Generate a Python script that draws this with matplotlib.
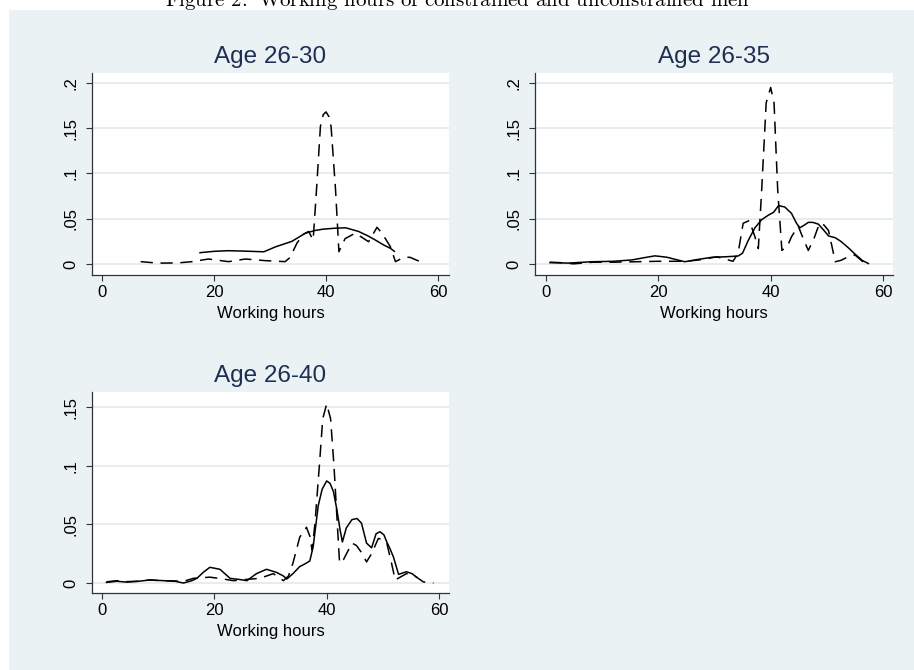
import numpy as np
import matplotlib
matplotlib.use("Agg")
import matplotlib.pyplot as plt
from matplotlib.patches import Rectangle

plt.rcParams.update({
    "font.family": ["Liberation Sans", "DejaVu Sans"],
    "mathtext.fontset": "cm",
})

BG = "#eaf2f3"
GRID = "#e3ecef"
TITLE_COLOR = "#1e2f56"

# ── data (hours, density) ─────────────────────────────────────────────────
titles = ["Age 26-30", "Age 26-35", "Age 26-40"]

h30_solid = [17.5, 20, 22.5, 25, 28.9, 31, 33.9, 36.3, 38, 39.5, 41.5, 43.5,
             45.8, 47.5, 48.8, 50.3, 51.5, 52.2]
d30_solid = [0.0125, 0.0140, 0.0147, 0.0143, 0.0135, 0.019, 0.025, 0.034,
             0.037, 0.0385, 0.0395, 0.040, 0.036, 0.031, 0.0265, 0.021,
             0.0173, 0.014]
h30_dash = [6.9, 9, 10.7, 13.5, 16.1, 19, 22.6, 25.6, 29.2, 32.7, 33.6, 34.8,
            36, 36.9, 37.7, 38.3, 39.0, 39.5, 40.0, 40.5, 40.9, 41.7, 42.3,
            43.4, 45.2, 46.4, 47.6, 49.1, 50, 51.5, 52.4, 53.9, 55, 57.4]
d30_dash = [0.0026, 0.0015, 0.001, 0.0012, 0.0026, 0.0055, 0.0026, 0.0055,
            0.0037, 0.0026, 0.0074, 0.023, 0.033, 0.036, 0.0265, 0.082, 0.152,
            0.165, 0.168, 0.163, 0.152, 0.082, 0.0136, 0.028, 0.034, 0.0295,
            0.0246, 0.0405, 0.034, 0.019, 0.0026, 0.0074, 0.0074, 0.001]

h35_solid = [0.7, 4, 8.1, 12, 15.3, 17.5, 19.4, 21.5, 24.7, 27, 29.5, 32,
             34.2, 35, 36, 37.2, 38.4, 39.6, 40.5, 41.4, 42.5, 43.7, 44.6,
             45.2, 46, 46.7, 47.5, 48.5, 49.5, 50.3, 51.5, 52.5, 54, 55,
             56.3, 57.4]
d35_solid = [0.0015, 0.001, 0.0025, 0.003, 0.0045, 0.007, 0.009, 0.0075,
             0.0025, 0.005, 0.0074, 0.008, 0.0088, 0.012, 0.026, 0.040, 0.049,
             0.054, 0.057, 0.0645, 0.063, 0.056, 0.045, 0.040, 0.043, 0.046,
             0.046, 0.044, 0.037, 0.031, 0.029, 0.025, 0.017, 0.011, 0.004,
             0.0005]
h35_dash = [0.7, 2.5, 4.9, 8.4, 12, 16, 20, 25, 28, 30.4, 33.3, 34.2, 35.1,
            36.2, 37.2, 37.8, 38.4, 39.2, 40.0, 40.6, 41.25, 42.0, 43.0, 43.7,
            44.9, 45.8, 46.7, 47.7, 48.7, 49.5, 50.3, 51.5, 52.5, 53.8, 55.0,
            56.8]
d35_dash = [0.002, 0.0015, 0.0002, 0.002, 0.002, 0.0025, 0.003, 0.003, 0.005,
            0.008, 0.003, 0.012, 0.045, 0.048, 0.030, 0.017, 0.082, 0.178,
            0.195, 0.178, 0.082, 0.015, 0.020, 0.030, 0.042, 0.028, 0.015,
            0.028, 0.045, 0.043, 0.037, 0.0025, 0.004, 0.008, 0.010, 0.0005]

h40_solid = [0.8, 2.6, 4.4, 6.5, 8.5, 11, 13, 14.5, 16, 16.9, 18, 19.2, 21,
             22.8, 24.5, 25.8, 27.5, 29.3, 31.1, 32.3, 32.9, 34, 35.2, 36.2,
             37.0, 37.6, 38.5, 39.2, 40.0, 40.6, 41.2, 41.8, 42.4, 42.8, 43.5,
             44.5, 45.4, 46.2, 47.1, 48.0, 48.8, 49.5, 50.2, 50.7, 51.3, 51.9,
             52.8, 54.2, 55.2, 56.0]
d40_solid = [0.0005, 0.0015, 0.0008, 0.0015, 0.0026, 0.002, 0.0015, 0.0,
             0.002, 0.004, 0.009, 0.0134, 0.0117, 0.004, 0.003, 0.002, 0.008,
             0.0117, 0.009, 0.006, 0.0034, 0.008, 0.014, 0.0165, 0.0188, 0.031,
             0.066, 0.080, 0.087, 0.085, 0.078, 0.063, 0.045, 0.035, 0.047,
             0.054, 0.055, 0.051, 0.034, 0.030, 0.042, 0.0437, 0.041, 0.035,
             0.029, 0.022, 0.0074, 0.0096, 0.008, 0.005]
h40_dash = [0.8, 2.6, 4.5, 6.5, 8.5, 10.5, 12.5, 14.5, 16.3, 19.2, 21.5, 23.4,
            25.5, 28.1, 30.5, 32.3, 33.2, 34.0, 35.2, 36.4, 37.0, 37.4, 37.9,
            38.7, 39.3, 40.0, 40.7, 41.3, 41.9, 42.3, 43.0, 44.5, 45.3, 46.2,
            47.1, 48.0, 49.2, 50.0, 50.7, 51.5, 52.2, 54.2, 55.4, 57.2, 59.0]
d40_dash = [0.001, 0.002, 0.0012, 0.0015, 0.0026, 0.002, 0.0018, 0.0015,
            0.004, 0.005, 0.0035, 0.002, 0.003, 0.004, 0.008, 0.002, 0.006,
            0.017, 0.039, 0.0475, 0.040, 0.028, 0.05, 0.10, 0.140, 0.1526,
            0.140, 0.10, 0.05, 0.017, 0.02, 0.034, 0.032, 0.026, 0.018, 0.025,
            0.038, 0.037, 0.034, 0.018, 0.0026, 0.008, 0.007, 0.001, 0.0]

xticks = [0, 20, 40, 60]
yticks_a = [0, 0.05, 0.1, 0.15, 0.2]
ylabels_a = ["0", ".05", ".1", ".15", ".2"]
yticks_c = [0, 0.05, 0.1, 0.15]
ylabels_c = ["0", ".05", ".1", ".15"]

W, H = 914, 670
fig = plt.figure(figsize=(W / 100, H / 100), dpi=100, facecolor="white")
fig.patches.append(Rectangle((9 / W, 0), 1, (H - 10) / H, transform=fig.transFigure,
                             facecolor=BG, edgecolor="none", zorder=-10))

# caption sits partly above the page edge, as in the source document
fig.text(0.5, 1 - 6 / H,
         r"Figure $\mathbf{2}\!\mathbf{:}$ Working hours of constrained and unconstrained men",
         ha="center", va="baseline", fontsize=15, family="cmr10")


def px_axes(left, top, right, bottom):
    return fig.add_axes([left / W, 1 - bottom / H, (right - left) / W, (bottom - top) / H])


panels = [
    (px_axes(92, 73, 449, 275), (-1.79, 61.96), (-0.01215, 0.211),
     h30_solid, d30_solid, h30_dash, d30_dash, yticks_a, ylabels_a),
    (px_axes(535, 73, 893, 275), (-1.96, 61.78), (-0.01215, 0.211),
     h35_solid, d35_solid, h35_dash, d35_dash, yticks_a, ylabels_a),
    (px_axes(92, 392, 449, 593), (-1.78, 61.78), (-0.0085, 0.1628),
     h40_solid, d40_solid, h40_dash, d40_dash, yticks_c, ylabels_c),
]

for (ax, xl, yl, hs, ds, hd, dd, yt, ylab), title in zip(panels, titles):
    ax.set_facecolor("white")
    ax.plot(hs, ds, color="black", lw=1.1, solid_joinstyle="round")
    line, = ax.plot(hd, dd, color="black", lw=1.1)
    line.set_dashes((8, 5))
    ax.set_xlim(*xl)
    ax.set_ylim(*yl)
    ax.set_xticks(xticks)
    ax.set_xticklabels([str(t) for t in xticks])
    ax.set_yticks(yt)
    ax.set_yticklabels(ylab, rotation=90, va="center")
    ax.yaxis.grid(True, color=GRID, lw=1.3)
    ax.set_axisbelow(True)
    for s in ("top", "right"):
        ax.spines[s].set_visible(False)
    for s in ("left", "bottom"):
        ax.spines[s].set_color("#333333")
        ax.spines[s].set_linewidth(0.9)
    ax.tick_params(axis="x", length=4, width=0.8, color="#333333", pad=3.5, labelsize=12)
    ax.tick_params(axis="y", length=4, width=0.8, color="#333333", pad=6, labelsize=12)
    ax.set_xlabel("Working hours", fontsize=12, labelpad=4)
    ax.set_title(title, fontsize=17.5, color=TITLE_COLOR, pad=7.2)

fig.savefig("out.png", dpi=100, facecolor="white")
